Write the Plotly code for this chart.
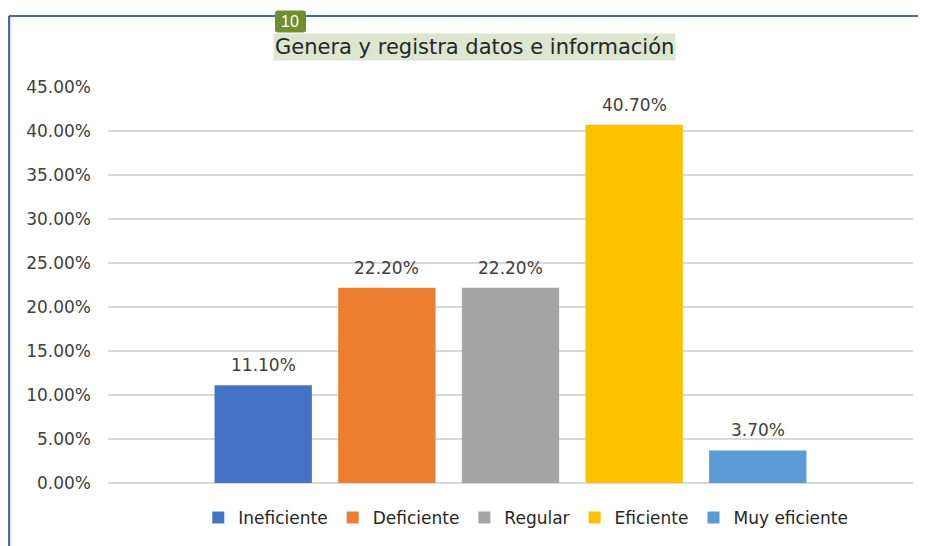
import plotly.graph_objects as go

# Data
category = ["Genera y registra datos e información"]
series = ["Ineficiente", "Deficiente", "Regular", "Eficiente", "Muy eficiente"]
values = [0.111, 0.222, 0.222, 0.407, 0.037]
colors = ["#4472C4", "#ED7D31", "#A5A5A5", "#FFC000", "#5B9BD5"]

FONT = "DejaVu Sans"
TEXT = "#404040"
PITCH = 123.6  # px between neighbouring bars in the group

fig = go.Figure()
for i, (name, val, col) in enumerate(zip(series, values, colors)):
    fig.add_trace(go.Bar(
        x=category,
        y=[val],
        name=name,
        marker=dict(color=col, line=dict(width=0)),
    ))
    # value label, sitting a bit higher above the bar than plotly's default
    fig.add_annotation(
        x=category[0], y=val, xref="x", yref="y",
        text=f"{val:.2%}", showarrow=False,
        xshift=(i - (len(series) - 1) / 2) * PITCH, yshift=20,
        xanchor="center", yanchor="middle",
        font=dict(family=FONT, size=17, color=TEXT),
    )

# frame lines (top and left border of the source chart)
border = "#4a6aa5"
fig.add_shape(type="line", xref="paper", yref="paper",
              x0=-0.123, x1=1.2, y0=1.179, y1=1.179,
              line=dict(color=border, width=2))
fig.add_shape(type="line", xref="paper", yref="paper",
              x0=-0.123, x1=-0.123, y0=1.179, y1=-0.2,
              line=dict(color=border, width=2.5))

# title with highlight
fig.add_annotation(
    text="Genera y registra datos e información",
    xref="paper", yref="paper", x=0.4547, y=1.101,
    xanchor="center", yanchor="middle", showarrow=False,
    font=dict(family=FONT, size=21, color="#262626"),
    bgcolor="#dde6d0", borderpad=1,
)

# small green badge "10"
r = 3
w, h = 15.5, 11
badge = (f"M {-w + r},{-h} L {w - r},{-h} Q {w},{-h} {w},{-h + r} "
         f"L {w},{h - r} Q {w},{h} {w - r},{h} L {-w + r},{h} "
         f"Q {-w},{h} {-w},{h - r} L {-w},{-h + r} Q {-w},{-h} {-w + r},{-h} Z")
fig.add_shape(type="path", path=badge, xref="paper", yref="paper",
              xsizemode="pixel", ysizemode="pixel",
              xanchor=0.2267, yanchor=1.1655,
              fillcolor="#6f8f2f", line=dict(width=0))
fig.add_annotation(
    text="10", xref="paper", yref="paper", x=0.2267, y=1.1655,
    xanchor="center", yanchor="middle", showarrow=False,
    font=dict(family="Liberation Sans", size=16, color="white"),
)

# page body has an 8px margin, so the figure is sized to fit the window
fig.update_layout(
    width=918, height=538,
    margin=dict(l=100, r=13, t=79, b=63, autoexpand=False),
    paper_bgcolor="white", plot_bgcolor="white",
    barmode="group", bargap=0.232, bargroupgap=0.213,
    font=dict(family=FONT, size=17, color=TEXT),
    showlegend=True,
    legend=dict(orientation="h", x=0.519, xanchor="center",
                y=-0.088, yanchor="middle",
                font=dict(family=FONT, size=17, color="#262626"),
                itemwidth=30, traceorder="normal"),
    xaxis=dict(showticklabels=False, showgrid=False, showline=False,
               zeroline=False, ticks=""),
    yaxis=dict(range=[0, 0.45], dtick=0.05, tickformat=".2%",
               showgrid=True, gridcolor="#d9d9d9", gridwidth=1.5,
               zeroline=True, zerolinecolor="#d9d9d9", zerolinewidth=1.5,
               showline=False, ticks="", ticklabelstandoff=16,
               tickfont=dict(family=FONT, size=17, color=TEXT)),
)

fig.write_html("out.html")
